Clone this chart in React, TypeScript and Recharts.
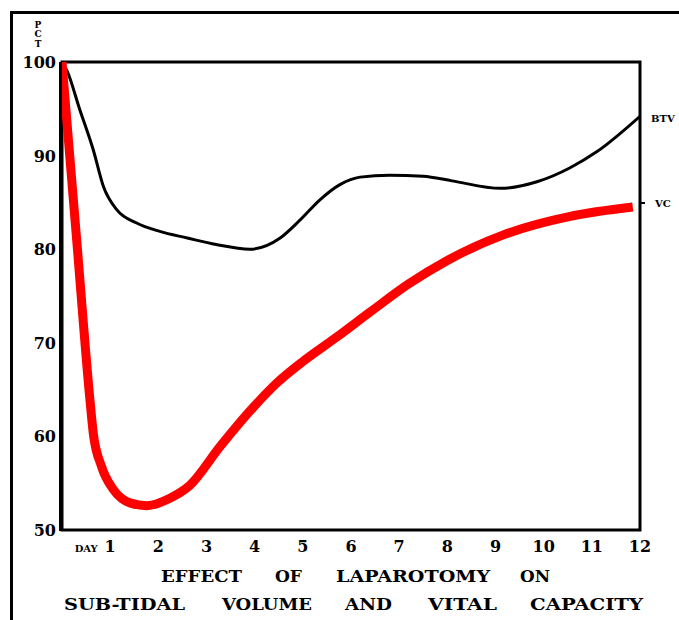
import React from 'react';
import { LineChart, Line, XAxis, YAxis, ReferenceArea } from 'recharts';

// BTV (sub-tidal volume), % of pre-op
const btvDays = [0, 0.1, 0.37, 0.65, 0.86, 1.14, 1.55, 2.03, 2.6, 3.2, 3.9, 4.53, 4.94, 5.36, 5.77, 6.19, 6.8, 7.5, 8.1, 9.1, 9.86, 10.55, 11.1, 12];
const btvValues = [100, 99.1, 94.9, 90.6, 86.7, 84.2, 82.8, 81.9, 81.2, 80.5, 80.0, 81.2, 83.1, 85.3, 86.9, 87.7, 87.9, 87.8, 87.3, 86.5, 87.2, 88.7, 90.4, 94.2];

// VC (vital capacity)
const vcDays = [0, 0.3, 0.58, 0.65, 0.82, 1.07, 1.41, 1.76, 2.24, 2.66, 3.28, 3.97, 4.46, 5.0, 5.7, 6.4, 7.2, 8.0, 9.15, 10.55, 11.85];
const vcValues = [100, 81.3, 63.9, 60.3, 56.8, 54.3, 52.9, 52.6, 53.4, 54.8, 58.9, 63.1, 65.7, 68.0, 70.6, 73.3, 76.3, 78.8, 81.5, 83.5, 84.5];

const xTicks = [1, 2, 3, 4, 5, 6, 7, 8, 9, 10, 11, 12];
const yTicks = [50, 60, 70, 80, 90, 100];

// title words: [text, left, right]
const titleLine1: [string, number, number][] = [
  ['EFFECT', 161, 242],
  ['OF', 275, 302],
  ['LAPAROTOMY', 336, 490],
  ['ON', 520, 550],
];
const titleLine2: [string, number, number][] = [
  ['SUB-TIDAL', 64, 185],
  ['VOLUME', 222, 312],
  ['AND', 345, 392],
  ['VITAL', 428, 497],
  ['CAPACITY', 530, 643],
];

const btvData = btvDays.map((d, i) => ({ day: d, value: btvValues[i] }));
const vcData = vcDays.map((d, i) => ({ day: d, value: vcValues[i] }));

const FONT = '"DejaVu Serif", serif';

const XTick = ({ x, y, payload }: any) => (
  <g>
    {payload.value === 1 && (
      <text x={x - 24} y={y + 20} textAnchor="middle" fontFamily={FONT} fontWeight="bold" fontSize={10} fill="#000">
        DAY
      </text>
    )}
    <text x={x} y={y + 20} textAnchor="middle" fontFamily={FONT} fontWeight="bold" fontSize={16} fill="#000">
      {payload.value}
    </text>
  </g>
);

const YTick = ({ x, y, payload }: any) => (
  <text x={x - 4} y={y + 6} textAnchor="end" fontFamily={FONT} fontWeight="bold" fontSize={16} fill="#000">
    {payload.value}
  </text>
);

export default function App() {
  return (
    <div style={{ position: 'absolute', left: 0, top: 0, width: 679, height: 620, background: '#fff', overflow: 'hidden' }}>
      <LineChart width={679} height={620} data={btvData} margin={{ top: 62, right: 39, bottom: 60, left: 12 }}>
        <XAxis
          dataKey="day"
          type="number"
          domain={[0, 12]}
          ticks={xTicks}
          axisLine={false}
          tickLine={false}
          tickSize={0}
          tick={<XTick />}
          height={30}
          allowDataOverflow
        />
        <YAxis
          type="number"
          domain={[50, 100]}
          ticks={yTicks}
          axisLine={false}
          tickLine={false}
          tickSize={0}
          tick={<YTick />}
          width={50}
        />
        <ReferenceArea x1={0} x2={12} y1={50} y2={100} fill="none" stroke="#000" strokeWidth={3} ifOverflow="visible" />
        <Line data={btvData} dataKey="value" type="monotone" stroke="#000" strokeWidth={3} dot={false} isAnimationActive={false} />
        <Line data={vcData} dataKey="value" type="monotone" stroke="#ff0000" strokeWidth={9} dot={false} isAnimationActive={false} />
      </LineChart>
      <svg width={679} height={620} style={{ position: 'absolute', left: 0, top: 0, pointerEvents: 'none' }}>
        <line x1={11.5} y1={12} x2={11.5} y2={620} stroke="#000" strokeWidth={3} />
        <line x1={10} y1={12.5} x2={679} y2={12.5} stroke="#000" strokeWidth={3} />
        <line x1={60} y1={62} x2={60} y2={531} stroke="#000" strokeWidth={2} />
        <line x1={640} y1={203} x2={645} y2={203} stroke="#000" strokeWidth={2} />
        <g fontFamily={FONT} fontWeight="bold" fill="#000">
          <text x={38} y={28} fontSize={9} textAnchor="middle">P</text>
          <text x={38} y={37} fontSize={9} textAnchor="middle">C</text>
          <text x={38} y={47} fontSize={9} textAnchor="middle">T</text>
          <text x={651} y={122} fontSize={10}>BTV</text>
          <text x={655} y={207} fontSize={10}>VC</text>
          {titleLine1.map(([w, l, r]) => (
            <text key={w} x={l} y={582} fontSize={17} textLength={r - l} lengthAdjust="spacingAndGlyphs">{w}</text>
          ))}
          {titleLine2.map(([w, l, r]) => (
            <text key={w} x={l} y={610} fontSize={17} textLength={r - l} lengthAdjust="spacingAndGlyphs">{w}</text>
          ))}
        </g>
      </svg>
    </div>
  );
}
